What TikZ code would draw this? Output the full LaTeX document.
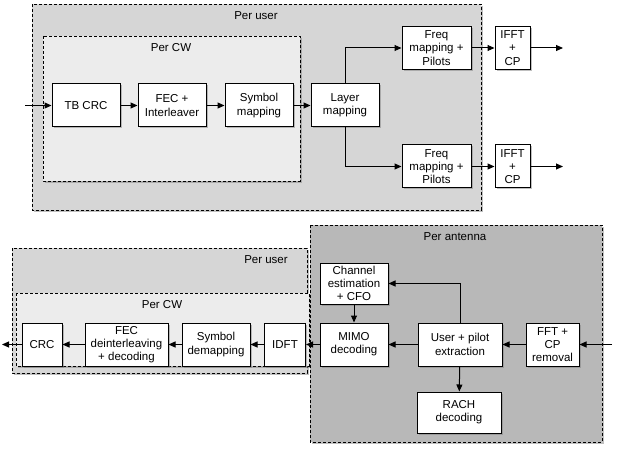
\documentclass[tikz,border=0pt]{standalone}
\usepackage{fontspec}
\setmainfont{Liberation Sans}
\usetikzlibrary{arrows.meta,shadows}
\definecolor{userfill}{HTML}{D6D6D6}
\definecolor{cwfill}{HTML}{ECECEC}
\definecolor{antfill}{HTML}{B8B8B8}
\tikzset{
  blk/.style={draw=black, fill=white, line width=1pt, align=center,
    font=\fontsize{11.5}{13.3}\selectfont, inner sep=1pt,
    drop shadow={shadow xshift=1.5pt, shadow yshift=-1.5pt, opacity=0.5}},
  cont/.style={draw=black, line width=0.9pt, dash pattern=on 3pt off 2pt,
    drop shadow={shadow xshift=1.5pt, shadow yshift=-2pt, opacity=0.5}},
  lbl/.style={font=\fontsize{11.5}{13.3}\selectfont},
  arr/.style={line width=1pt, -{Triangle[length=7pt,width=6pt]}}
}
\begin{document}
\begin{tikzpicture}[x=1pt,y=-1pt]
\useasboundingbox (0,0) rectangle (617,454);
% ---------- top ----------
\draw[cont, fill=userfill] (32,4) rectangle (481,210);
\node[lbl] (tuser) at (256,16) {Per user};
\draw[cont, fill=cwfill] (43,36) rectangle (300,181);
\node[lbl] (tcw) at (171,48) {Per CW};
\node[blk, minimum width=68pt, minimum height=43pt] (tbcrc) at (86,105.5) {TB CRC};
\node[blk, minimum width=68pt, minimum height=43pt] (fec) at (172,105.5) {FEC +\\Interleaver};
\node[blk, minimum width=68pt, minimum height=43pt] (sym) at (259,105.5) {Symbol\\mapping};
\node[blk, minimum width=68pt, minimum height=43pt] (layer) at (345,105.5) {Layer\\mapping};
\node[blk, minimum width=69pt, minimum height=43pt] (freqa) at (436.5,48) {Freq\\mapping +\\Pilots};
\node[blk, minimum width=69pt, minimum height=43pt] (freqb) at (436.5,166.5) {Freq\\mapping +\\Pilots};
\node[blk, minimum width=35pt, minimum height=43pt] (iffta) at (512.5,48) {IFFT\\+\\CP};
\node[blk, minimum width=35pt, minimum height=43pt] (ifftb) at (512.5,166.5) {IFFT\\+\\CP};
\coordinate (tin) at (25,105.5);
\coordinate (touta) at (563,48);
\coordinate (toutb) at (563,166.5);
\draw[arr] (tin) -- (tbcrc);
\draw[arr] (tbcrc) -- (fec);
\draw[arr] (fec) -- (sym);
\draw[arr] (sym) -- (layer);
\draw[arr] (layer.north) |- (freqa.west);
\draw[arr] (layer.south) |- (freqb.west);
\draw[arr] (freqa) -- (iffta);
\draw[arr] (freqb) -- (ifftb);
\draw[arr] (iffta) -- (touta);
\draw[arr] (ifftb) -- (toutb);
% ---------- bottom ----------
\draw[cont, fill=userfill] (12,248) rectangle (307,373);
\node[lbl] (buser) at (266,260) {Per user};
\draw[cont, fill=cwfill] (16,293) rectangle (309,366);
\node[lbl] (bcw) at (162,305) {Per CW};
\node[blk, minimum width=40pt, minimum height=43pt] (crc) at (42,344.5) {CRC};
\node[blk, minimum width=83pt, minimum height=43pt] (fecd) at (126.5,344.5) {FEC\\deinterleaving\\+ decoding};
\node[blk, minimum width=68pt, minimum height=43pt] (symd) at (216,344.5) {Symbol\\demapping};
\node[blk, minimum width=41pt, minimum height=43pt] (idft) at (285,344.5) {IDFT};
\draw[cont, fill=antfill] (310,225) rectangle (602,442);
\node[lbl] (bant) at (455,237) {Per antenna};
\node[blk, minimum width=68pt, minimum height=41pt] (chan) at (354,283.5) {Channel\\estimation\\+ CFO};
\node[blk, minimum width=68pt, minimum height=43pt] (mimo) at (354,344.5) {MIMO\\decoding};
\node[blk, minimum width=84pt, minimum height=43pt] (user) at (460,344.5) {User + pilot\\extraction};
\node[blk, minimum width=53pt, minimum height=43pt] (fft) at (552.5,344.5) {FFT +\\CP\\removal};
\node[blk, minimum width=84pt, minimum height=41pt] (rach) at (459,412.5) {RACH\\decoding};
\coordinate (bin) at (612,344.5);
\coordinate (bout) at (2,344.5);
\draw[arr] (bin) -- (fft);
\draw[arr] (fft) -- (user);
\draw[arr] (user) -- (mimo);
\draw[arr] (user.north) |- (chan.east);
\draw[arr] (user) -- (rach);
\draw[arr] (chan) -- (mimo);
\draw[arr] (mimo) -- (idft);
\draw[arr] (idft) -- (symd);
\draw[arr] (symd) -- (fecd);
\draw[arr] (fecd) -- (crc);
\draw[arr] (crc) -- (bout);
\end{tikzpicture}
\end{document}
